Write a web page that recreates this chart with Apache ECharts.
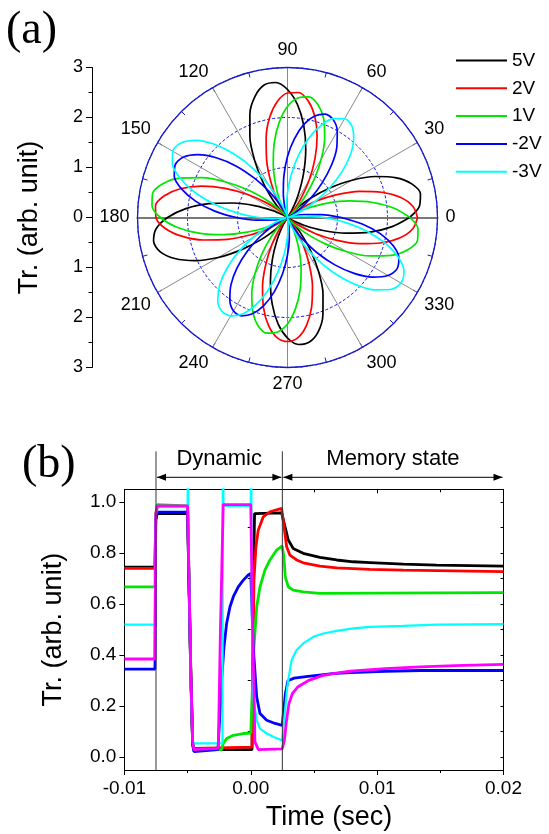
<!DOCTYPE html>
<html>
<head>
<meta charset="utf-8">
<script src="https://cdn.jsdelivr.net/npm/echarts@6/dist/echarts.min.js"></script>
<style>
html, body { margin: 0; padding: 0; background: #fff; }
#chart { width: 549px; height: 834px; }
</style>
</head>
<body>
<div id="chart"></div>
<script>
// ---------- (a) polar transmission, angle in degrees ----------
var ANGLES = [0,5,10,15,20,25,30,35,40,45,50,55,60,65,70,75,80,85,90,95,100,105,110,115,120,125,130,135,140,145,150,155,160,165,170,175,
  180,185,190,195,200,205,210,215,220,225,230,235,240,245,250,255,260,265,270,275,280,285,290,295,300,305,310,315,320,325,330,335,340,345,350,355,360];
var R_5V = [2.44,2.65,2.70,2.58,2.32,1.94,1.49,1.02,0.60,0.26,0.05,0.03,0.21,0.52,0.94,1.41,1.87,2.27,2.56,2.71,2.69,2.51,2.20,1.78,1.31,0.85,0.45,0.16,0.01,0.00,0.08,0.32,0.68,1.12,1.60,2.04,
  2.40,2.64,2.72,2.64,2.40,2.04,1.60,1.12,0.68,0.32,0.08,0.03,0.19,0.49,0.88,1.32,1.76,2.14,2.41,2.55,2.53,2.37,2.07,1.68,1.24,0.80,0.42,0.15,0.01,0.00,0.12,0.38,0.76,1.21,1.68,2.10,2.44];
var R_2V = [2.60,2.52,2.30,1.95,1.53,1.07,0.65,0.30,0.08,0.03,0.19,0.48,0.87,1.30,1.73,2.10,2.37,2.51,2.49,2.33,2.04,1.65,1.22,0.79,0.42,0.15,0.01,0.03,0.20,0.51,0.92,1.38,1.83,2.22,2.50,2.65,
  2.63,2.46,2.15,1.74,1.28,0.83,0.44,0.16,0.01,0.00,0.07,0.29,0.62,1.02,1.46,1.86,2.19,2.41,2.48,2.41,2.19,1.86,1.46,1.02,0.62,0.29,0.07,0.00,0.08,0.30,0.65,1.07,1.53,1.95,2.30,2.52,2.60];
var R_1V = [2.45,2.14,1.73,1.28,0.83,0.44,0.16,0.01,0.05,0.23,0.54,0.93,1.35,1.76,2.11,2.34,2.45,2.40,2.22,1.91,1.52,1.10,0.69,0.34,0.11,0.00,0.03,0.21,0.53,0.95,1.42,1.89,2.30,2.59,2.74,2.72,
  2.54,2.22,1.80,1.33,0.86,0.45,0.16,0.01,0.05,0.22,0.52,0.89,1.30,1.69,2.02,2.25,2.35,2.30,2.13,1.83,1.46,1.05,0.66,0.33,0.10,0.00,0.03,0.20,0.51,0.92,1.37,1.82,2.21,2.49,2.64,2.62,2.45];
var R_M2V = [1.08,0.68,0.34,0.10,0.00,0.00,0.10,0.31,0.62,0.98,1.37,1.72,1.99,2.16,2.20,2.10,1.89,1.58,1.22,0.83,0.48,0.21,0.04,0.07,0.29,0.62,1.02,1.46,1.86,2.19,2.41,2.48,2.41,2.19,1.86,1.46,
  1.02,0.62,0.29,0.07,0.01,0.13,0.36,0.68,1.05,1.43,1.76,2.01,2.16,2.17,2.05,1.82,1.50,1.13,0.75,0.42,0.17,0.02,0.00,0.05,0.23,0.53,0.92,1.34,1.74,2.08,2.32,2.42,2.37,2.19,1.89,1.50,1.08];
var R_M3V = [0.74,0.37,0.11,0.00,0.10,0.32,0.64,1.02,1.42,1.78,2.06,2.24,2.28,2.18,1.96,1.64,1.26,0.86,0.50,0.22,0.04,0.00,0.11,0.37,0.74,1.19,1.65,2.07,2.40,2.60,2.65,2.54,2.28,1.91,1.46,1.00,
  0.58,0.25,0.05,0.03,0.17,0.44,0.79,1.19,1.58,1.92,2.17,2.29,2.27,2.13,1.86,1.51,1.11,0.72,0.38,0.13,0.01,0.00,0.05,0.25,0.58,0.99,1.45,1.88,2.25,2.51,2.62,2.57,2.37,2.04,1.63,1.17,0.74];
var POLAR_NAMES = ['5V', '2V', '1V', '-2V', '-3V'];
var POLAR_COLORS = ['#000000', '#ff0000', '#00e600', '#0000ff', '#00ffff'];

// ---------- (b) transmission vs time ----------
var T_BLACK = [-0.0100,-0.00758,-0.00752,-0.0074,-0.0050,-0.00475,-0.0046,-0.0045,0.00010,0.00018,0.00030,0.00244,0.00257,0.00297,0.00336,0.00415,0.00547,0.0068,0.00811,0.00943,0.01207,0.01471,0.01734,0.0200];
var V_BLACK = [0.745,0.745,0.930,0.955,0.955,0.330,0.050,0.030,0.030,0.600,0.955,0.958,0.965,0.851,0.818,0.799,0.783,0.773,0.766,0.763,0.757,0.753,0.751,0.749];
var T_RED = [-0.0100,-0.00758,-0.00752,-0.0074,-0.0050,-0.00475,-0.0046,-0.0045,0.00010,0.00015,0.00025,0.00041,0.00059,0.00099,0.00152,0.00244,0.00257,0.00284,0.0031,0.00363,0.00415,0.00547,0.0068,0.00943,0.01207,0.01471,0.0200];
var V_RED = [0.740,0.740,0.950,0.982,0.982,0.350,0.060,0.035,0.040,0.300,0.694,0.825,0.890,0.942,0.962,0.975,0.969,0.825,0.792,0.773,0.762,0.749,0.742,0.736,0.733,0.731,0.727];
var T_GREEN = [-0.0100,-0.00758,-0.00752,-0.0074,-0.0050,-0.00475,-0.0046,-0.0045,-0.0023,-0.00218,-0.00191,-0.00138,-0.00059,0.00000,0.00025,0.00047,0.00073,0.00112,0.00152,0.00205,0.00249,0.00262,0.00273,0.00297,0.00336,0.00415,0.00547,0.0100,0.0200];
var V_GREEN = [0.668,0.668,0.950,0.990,0.985,0.350,0.060,0.030,0.030,0.054,0.073,0.086,0.093,0.095,0.430,0.590,0.668,0.733,0.773,0.812,0.828,0.786,0.707,0.668,0.655,0.648,0.642,0.643,0.645];
var T_BLUE = [-0.0100,-0.00758,-0.00752,-0.0074,-0.0050,-0.00475,-0.0046,-0.0045,-0.0026,-0.00244,-0.0023,-0.00212,-0.00191,-0.00165,-0.00138,-0.00099,-0.00059,-0.0002,0.0000,0.0002,0.00047,0.00073,0.00126,0.00178,0.00249,0.0026,0.00274,0.00294,0.00343,0.00454,0.00648,0.00787,0.01064,0.01341,0.0200];
var V_BLUE = [0.345,0.345,0.930,0.960,0.960,0.330,0.050,0.022,0.030,0.170,0.302,0.432,0.524,0.589,0.629,0.668,0.694,0.714,0.720,0.430,0.236,0.171,0.145,0.135,0.125,0.130,0.250,0.300,0.310,0.317,0.328,0.332,0.337,0.340,0.340];
var T_CYAN = [-0.0100,-0.00758,-0.00752,-0.0074,-0.00500,-0.00497,-0.00494,-0.00475,-0.0046,-0.0045,-0.00224,-0.00221,-0.00216,-0.0021,0.00000,0.00003,0.00008,0.00020,0.00047,0.00073,0.00126,0.00178,0.00249,0.00274,0.00288,0.00297,0.00323,0.00363,0.00415,0.00495,0.00574,0.0068,0.00811,0.00943,0.01207,0.01471,0.0200];
var V_CYAN = [0.520,0.520,0.950,0.980,0.980,1.300,0.900,0.300,0.070,0.054,0.054,1.300,0.985,0.985,0.985,1.300,0.600,0.236,0.145,0.112,0.093,0.080,0.066,0.197,0.275,0.302,0.380,0.420,0.446,0.472,0.485,0.495,0.505,0.511,0.515,0.520,0.522];
var T_MAGENTA = [-0.0100,-0.00758,-0.00752,-0.0074,-0.0050,-0.00475,-0.0046,-0.0045,-0.00257,-0.0024,-0.00218,0.00000,0.00015,0.00033,0.0006,0.00249,0.00266,0.00283,0.00302,0.0033,0.00371,0.00454,0.00565,0.00676,0.00787,0.01064,0.01341,0.01618,0.0200];
var V_MAGENTA = [0.385,0.385,0.950,0.985,0.985,0.350,0.060,0.030,0.035,0.500,0.990,0.990,0.500,0.060,0.030,0.033,0.066,0.144,0.210,0.250,0.275,0.300,0.320,0.330,0.337,0.347,0.354,0.359,0.364];
var TIME_COLORS = ['#000000', '#ff0000', '#00e600', '#0000ff', '#00ffff', '#ff00ff'];

var Y_LABELS = [0, 0.2, 0.4, 0.6, 0.8, 1.0];
var Y_MINOR = [0.1, 0.3, 0.5, 0.7, 0.9];
var Y_RIGHT = [0, 0.1, 0.2, 0.3, 0.4, 0.5, 0.6, 0.7, 0.8, 0.9, 1.0];
var MARK_T = [-0.0075, 0.0025, 0.02];      // phase boundaries
var MARK_TEXT = ['Dynamic', 'Memory state'];

var FONT = 'Liberation Sans, Arial, sans-serif';
var chart = echarts.init(document.getElementById('chart'));

var POLAR_R = [R_5V, R_2V, R_1V, R_M2V, R_M3V];
var series = [];
POLAR_R.forEach(function (r, i) {
  series.push({
    name: POLAR_NAMES[i],
    type: 'line',
    coordinateSystem: 'polar',
    polarIndex: 0,
    symbol: 'none',
    smooth: 0.3,
    lineStyle: { width: 1.7, color: POLAR_COLORS[i] },
    itemStyle: { color: POLAR_COLORS[i] },
    data: ANGLES.map(function (a, k) { return [r[k], a]; })
  });
});

var TIME_T = [T_BLACK, T_RED, T_GREEN, T_BLUE, T_CYAN, T_MAGENTA];
var TIME_V = [V_BLACK, V_RED, V_GREEN, V_BLUE, V_CYAN, V_MAGENTA];
TIME_T.forEach(function (t, i) {
  series.push({
    name: 'trace' + i,
    type: 'line',
    xAxisIndex: 1,
    yAxisIndex: 1,
    symbol: 'none',
    clip: true,
    lineStyle: { width: i === 4 ? 2.2 : 2.8, color: TIME_COLORS[i] },
    data: t.map(function (x, k) { return [x, TIME_V[i][k]]; })
  });
});

var blue = '#1a1ac8';
var option = {
  animation: false,
  backgroundColor: '#fff',
  textStyle: { fontFamily: FONT, color: '#000' },
  title: [
    { text: '(a)', left: 6, top: 8, padding: 0,
      textStyle: { fontFamily: 'Liberation Serif, Times New Roman, serif', fontSize: 46, fontWeight: 'normal', color: '#000' } },
    { text: '(b)', left: 22, top: 442, padding: 0,
      textStyle: { fontFamily: 'Liberation Serif, Times New Roman, serif', fontSize: 46, fontWeight: 'normal', color: '#000' } }
  ],
  legend: {
    data: POLAR_NAMES,
    orient: 'vertical',
    left: 456,
    top: 51,
    padding: 0,
    icon: 'rect',
    itemWidth: 51,
    itemHeight: 2,
    itemGap: 8.8,
    selectedMode: false,
    textStyle: { fontSize: 19, color: '#000', fontFamily: FONT }
  },
  polar: [
    { center: [287.5, 217.5], radius: 150 },
    { center: [287.5, 217.5], radius: 150 }
  ],
  angleAxis: [
    {
      polarIndex: 0, type: 'value', min: 0, max: 360, interval: 30,
      startAngle: 0, clockwise: false,
      axisLine: { lineStyle: { color: blue, width: 1.3 } },
      axisTick: { show: true, inside: true, length: 5, lineStyle: { color: blue } },
      minorTick: { show: true, splitNumber: 2, length: 5, lineStyle: { color: blue } },
      axisLabel: { fontSize: 18, color: '#000', margin: 8,
        formatter: function (v) { return v === 360 ? '' : String(v); } },
      splitLine: { show: true, lineStyle: { color: '#8a8a8a', width: 1 } }
    },
    { polarIndex: 1, type: 'value', min: 0, max: 360, startAngle: 180, clockwise: false, show: false }
  ],
  radiusAxis: [
    {
      polarIndex: 0, type: 'value', min: 0, max: 3, interval: 1,
      axisLine: { show: true, lineStyle: { color: '#777', width: 2 } },
      axisTick: { show: false }, axisLabel: { show: false },
      splitLine: { show: true, lineStyle: { color: '#1010e0', width: 1, type: [3, 2] } }
    },
    {
      polarIndex: 1, type: 'value', min: 0, max: 3,
      axisLine: { show: true, lineStyle: { color: '#777', width: 2 } },
      axisTick: { show: false }, axisLabel: { show: false }, splitLine: { show: false }
    }
  ],
  grid: [
    { left: 92, top: 67.5, width: 20, height: 300, containLabel: false, outerBoundsMode: 'none' },
    { left: 124.4, top: 489.3, right: 45.5, bottom: 64, containLabel: false, outerBoundsMode: 'none' }
  ],
  xAxis: [
    { gridIndex: 0, type: 'value', min: 0, max: 1, show: false },
    {
      gridIndex: 1, type: 'value', position: 'bottom', min: -0.01, max: 0.02, interval: 0.01,
      axisLine: { show: true, onZero: false, lineStyle: { color: '#000', width: 1 } },
      axisTick: { show: true, length: 5, lineStyle: { color: '#000' } },
      minorTick: { show: true, splitNumber: 2, length: 3, lineStyle: { color: '#000' } },
      axisLabel: { fontSize: 19, color: '#000', margin: 9,
        formatter: function (v) { return Math.abs(v) < 1e-9 ? '0.00' : v.toFixed(2); } },
      splitLine: { show: false },
      name: 'Time (sec)', nameLocation: 'middle', nameGap: 34,
      nameTextStyle: { fontSize: 27, color: '#000', padding: [0, 0, 0, 30] }
    },
    {
      gridIndex: 1, type: 'value', position: 'top', min: -0.01, max: 0.02, interval: 0.01,
      axisLine: { show: true, onZero: false, lineStyle: { color: '#000', width: 1 } },
      axisTick: { show: true, inside: true, length: 4, lineStyle: { color: '#000' } },
      minorTick: { show: true, splitNumber: 2, length: 3, lineStyle: { color: '#000' } },
      axisLabel: { show: false }, splitLine: { show: false }
    }
  ],
  yAxis: [
    {
      gridIndex: 0, type: 'value', position: 'left', min: -3, max: 3, interval: 1,
      axisLine: { show: true, onZero: false, lineStyle: { color: '#000', width: 1 } },
      axisTick: { show: true, length: 6, lineStyle: { color: '#000' } },
      minorTick: { show: true, splitNumber: 2, length: 3.5, lineStyle: { color: '#000' } },
      axisLabel: { fontSize: 18, color: '#000', margin: 9,
        formatter: function (v) { return String(Math.abs(v)); } },
      splitLine: { show: false },
      name: 'Tr. (arb. unit)', nameLocation: 'middle', nameGap: 49,
      nameTextStyle: { fontSize: 27, color: '#000' }
    },
    {
      gridIndex: 1, type: 'value', position: 'left', min: -0.05, max: 1.05,
      axisLine: { show: true, onZero: false, lineStyle: { color: '#000', width: 1 } },
      axisTick: { show: true, length: 5, customValues: Y_LABELS, lineStyle: { color: '#000' } },
      axisLabel: { fontSize: 19, color: '#000', margin: 8, customValues: Y_LABELS,
        formatter: function (v) { return v.toFixed(1); } },
      splitLine: { show: false },
      name: 'Tr. (arb. unit)', nameLocation: 'middle', nameGap: 57,
      nameTextStyle: { fontSize: 27, color: '#000' }
    },
    {
      gridIndex: 1, type: 'value', position: 'left', min: -0.05, max: 1.05,
      axisLine: { show: false },
      axisTick: { show: true, length: 3, customValues: Y_MINOR, lineStyle: { color: '#000' } },
      axisLabel: { show: false }, splitLine: { show: false }
    },
    {
      gridIndex: 1, type: 'value', position: 'right', min: -0.05, max: 1.05,
      axisLine: { show: true, onZero: false, lineStyle: { color: '#000', width: 1 } },
      axisTick: { show: true, inside: true, length: 3, customValues: Y_RIGHT, lineStyle: { color: '#000' } },
      axisLabel: { show: false }, splitLine: { show: false }
    }
  ],
  series: series
};
chart.setOption(option, true);

// phase markers above panel (b), placed through the axis scales
var finder = { xAxisIndex: 1, yAxisIndex: 1 };
var px = MARK_T.map(function (t) { return chart.convertToPixel(finder, [t, 1.05])[0]; });
var topY = chart.convertToPixel(finder, [0, 1.05])[1];
var botY = chart.convertToPixel(finder, [0, -0.05])[1];
var arrowY = topY - 12;
var textY = topY - 30;
var g = [];
[px[0], px[1]].forEach(function (x) {
  g.push({ type: 'line', shape: { x1: x, y1: topY - 38, x2: x, y2: botY }, style: { stroke: '#333', lineWidth: 1 }, z: 100 });
});
function head(x, dir) {
  return { type: 'polygon', shape: { points: [[x, arrowY], [x - dir * 9, arrowY - 3.5], [x - dir * 9, arrowY + 3.5]] },
    style: { fill: '#000' }, z: 100 };
}
for (var i = 0; i < 2; i++) {
  var xa = px[i] + 1, xb = px[i + 1] - 1;
  g.push({ type: 'line', shape: { x1: xa, y1: arrowY, x2: xb, y2: arrowY }, style: { stroke: '#000', lineWidth: 1 }, z: 100 });
  g.push(head(xa, -1));
  g.push(head(xb, 1));
  g.push({ type: 'text', x: (px[i] + px[i + 1]) / 2, y: textY, z: 100,
    style: { text: MARK_TEXT[i], fontSize: 22, fontFamily: FONT, fill: '#000', align: 'center', verticalAlign: 'middle' } });
}
chart.setOption({ graphic: g });
</script>
</body>
</html>
